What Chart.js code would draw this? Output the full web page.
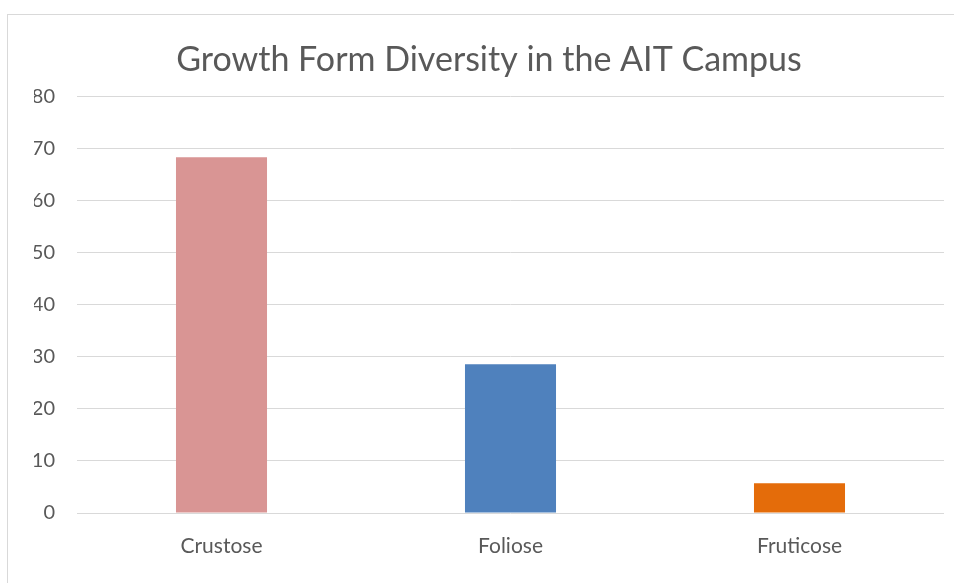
<!DOCTYPE html>
<html>
<head>
<meta charset="utf-8">
<script src="https://cdn.jsdelivr.net/npm/chart.js@4/dist/chart.umd.min.js"></script>
<style>
  html, body { margin: 0; padding: 0; background: #ffffff; overflow: hidden; }
  #wrap { position: relative; width: 954px; height: 583px; }
  #frame { position: absolute; left: 7px; top: 14px; width: 1000px; height: 1000px; border: 1px solid #d9d9d9; box-sizing: border-box; }
  canvas { position: absolute; left: 0; top: 0; }
</style>
</head>
<body>
<div id="wrap">
  <div id="frame"></div>
  <canvas id="c" width="954" height="583"></canvas>
</div>
<script>
const categories = ["Crustose", "Foliose", "Fruticose"];
const values = [68.4, 28.6, 5.7];
const barColors = ["#d99594", "#4f81bd", "#e46c0a"];
const yTicks = { min: 0, max: 80, step: 10 };
const titleText = "Growth Form Diversity in the AIT Campus";

const FONT = "Lato, 'Open Sans', sans-serif";

new Chart(document.getElementById("c"), {
  type: "bar",
  data: {
    labels: categories,
    datasets: [{
      data: values,
      backgroundColor: barColors,
      borderWidth: 0,
      barPercentage: 1,
      categoryPercentage: 0.315
    }]
  },
  options: {
    responsive: false,
    animation: false,
    layout: { padding: { left: 34, right: 10, top: 0, bottom: 0 } },
    plugins: {
      legend: { display: false },
      tooltip: { enabled: false },
      title: {
        display: true,
        text: titleText,
        color: "#595959",
        font: { family: FONT, size: 34, weight: "normal" },
        padding: { top: 40, bottom: 16 }
      }
    },
    scales: {
      x: {
        grid: { display: false, drawTicks: false },
        border: { display: false },
        ticks: { color: "#595959", font: { family: FONT, size: 21 }, padding: 21 },
        afterFit: (s) => { s.height = 70; }
      },
      y: {
        min: yTicks.min,
        max: yTicks.max,
        grid: { color: "#d9d9d9", lineWidth: 1, drawTicks: false },
        border: { display: false },
        ticks: { stepSize: yTicks.step, color: "#595959", font: { family: FONT, size: 20 }, padding: 22 },
        afterFit: (s) => { s.width = 43; }
      }
    }
  }
});
</script>
</body>
</html>
